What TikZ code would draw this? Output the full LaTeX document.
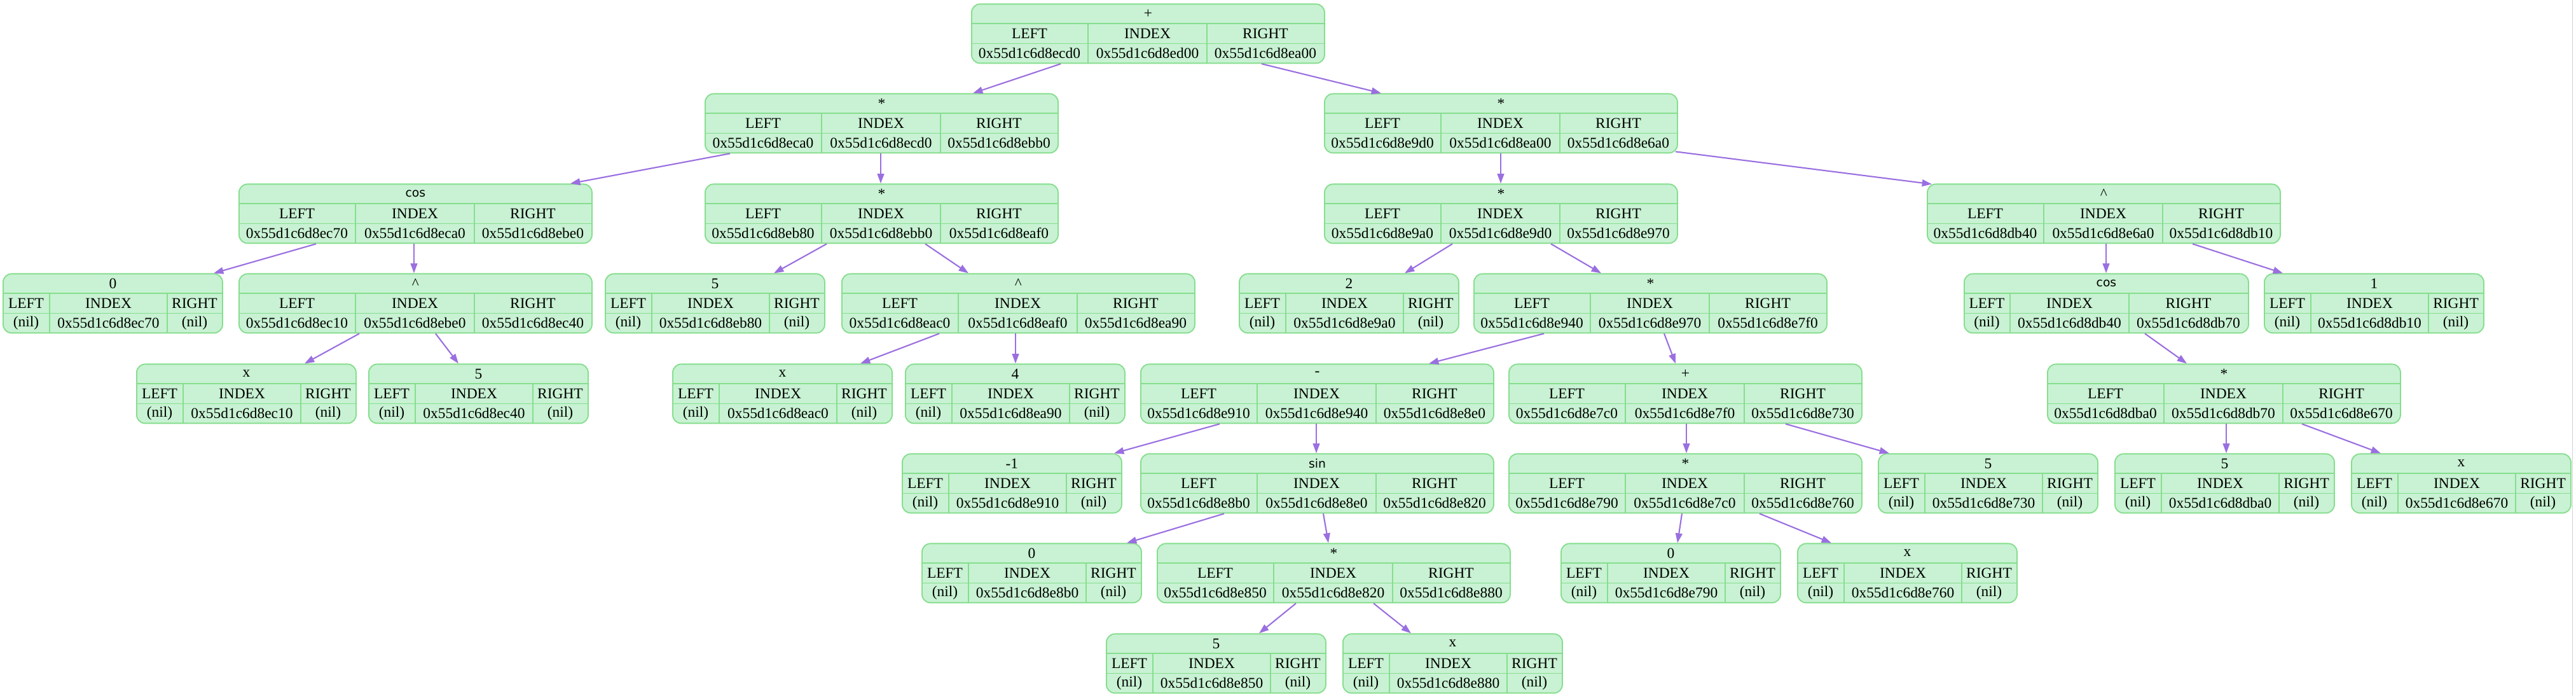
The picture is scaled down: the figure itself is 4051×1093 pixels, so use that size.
\documentclass[tikz,border=0pt]{standalone}
\usepackage{fontspec}
\setmainfont{Liberation Serif}
\newfontfamily\opsans{DejaVu Sans}
\usepackage{xcolor}
\usepackage{tikz}
\usetikzlibrary{arrows.meta, calc}

\definecolor{cellfill}{HTML}{C8F2D3}
\definecolor{celledge}{HTML}{86DE8E}
\definecolor{linkcol}{HTML}{9A6FE0}

% column widths of a record: LEFT / INDEX / RIGHT
\newcommand{\widerec}{\def\wa{184}\def\wb{187}\def\wc{184}}
\newcommand{\leafrec}{\def\wa{74}\def\wb{185}\def\wc{86}}
\newcommand{\halfrec}{\def\wa{73}\def\wb{187}\def\wc{187}}

% record node: name, x, y, label, left, index, right
\newcommand{\recnode}[7]{%
  \node[rec, minimum width={(\wa+\wb+\wc)*0.15mm}] (#1) at (#2,#3) {};
  \draw[sep] ($(#1.north west)+(0,31.5)$) -- ($(#1.north east)+(0,31.5)$);
  \draw[sep] ($(#1.north west)+(0,63)$) -- ($(#1.north east)+(0,63)$);
  \draw[sep] ($(#1.north west)+(\wa,31.5)$) -- ($(#1.south west)+(\wa,0)$);
  \draw[sep] ($(#1.north west)+(\wa+\wb,31.5)$) -- ($(#1.south west)+(\wa+\wb,0)$);
  \node[txt] at ($(#1.north)+(0,16)$) {#4};
  \node[txt] at ($(#1.north west)+(\wa/2,47)$) {LEFT};
  \node[txt] at ($(#1.north west)+(\wa+\wb/2,47)$) {INDEX};
  \node[txt] at ($(#1.north west)+(\wa+\wb+\wc/2,47)$) {RIGHT};
  \node[txt] at ($(#1.north west)+(\wa/2,78)$) {#5};
  \node[txt] at ($(#1.north west)+(\wa+\wb/2,78)$) {#6};
  \node[txt] at ($(#1.north west)+(\wa+\wb+\wc/2,78)$) {#7};
}

\begin{document}
\begin{tikzpicture}[
    x=0.15mm, y=-0.15mm,
    rec/.style={draw=celledge, fill=cellfill, line width=0.8pt, rounded corners=2mm,
                minimum height={93*0.15mm}, inner sep=0pt, anchor=north west},
    sep/.style={draw=celledge, line width=0.8pt},
    txt/.style={inner sep=0pt, font=\fontsize{10pt}{12pt}\selectfont},
    link/.style={draw=linkcol, line width=0.9pt, -{Triangle[length=2.3mm, width=1.6mm]}},
]
\path[fill=white] (0,0) rectangle (4051,1093);
\draw[gray!35, line width=0.4pt] (4045,0) -- (4045,1093);

% level 0
\widerec
\recnode{plus0}{1527}{5}{+}{0x55d1c6d8ecd0}{0x55d1c6d8ed00}{0x55d1c6d8ea00}

% level 1
\recnode{mulA}{1108}{146}{*}{0x55d1c6d8eca0}{0x55d1c6d8ecd0}{0x55d1c6d8ebb0}
\recnode{mulB}{2082}{146}{*}{0x55d1c6d8e9d0}{0x55d1c6d8ea00}{0x55d1c6d8e6a0}

% level 2
\recnode{cosA}{375}{288}{{\opsans\fontsize{8pt}{10pt}\selectfont cos}}{0x55d1c6d8ec70}{0x55d1c6d8eca0}{0x55d1c6d8ebe0}
\recnode{mulC}{1108}{288}{*}{0x55d1c6d8eb80}{0x55d1c6d8ebb0}{0x55d1c6d8eaf0}
\recnode{mulD}{2082}{288}{*}{0x55d1c6d8e9a0}{0x55d1c6d8e9d0}{0x55d1c6d8e970}
\recnode{powE}{3030}{288}{\textasciicircum}{0x55d1c6d8db40}{0x55d1c6d8e6a0}{0x55d1c6d8db10}

% level 3
\leafrec
\recnode{zeroA}{4}{429}{0}{(nil)}{0x55d1c6d8ec70}{(nil)}
\recnode{fiveA}{951}{429}{5}{(nil)}{0x55d1c6d8eb80}{(nil)}
\recnode{twoA}{1948}{429}{2}{(nil)}{0x55d1c6d8e9a0}{(nil)}
\recnode{oneA}{3560}{429}{1}{(nil)}{0x55d1c6d8db10}{(nil)}
\widerec
\recnode{powA}{375}{429}{\textasciicircum}{0x55d1c6d8ec10}{0x55d1c6d8ebe0}{0x55d1c6d8ec40}
\recnode{powB}{1323}{429}{\textasciicircum}{0x55d1c6d8eac0}{0x55d1c6d8eaf0}{0x55d1c6d8ea90}
\recnode{mulF}{2317}{429}{*}{0x55d1c6d8e940}{0x55d1c6d8e970}{0x55d1c6d8e7f0}
\halfrec
\recnode{cosB}{3088}{429}{{\opsans\fontsize{8pt}{10pt}\selectfont cos}}{(nil)}{0x55d1c6d8db40}{0x55d1c6d8db70}

% level 4
\leafrec
\recnode{xA}{214}{571}{x}{(nil)}{0x55d1c6d8ec10}{(nil)}
\recnode{fiveB}{579}{571}{5}{(nil)}{0x55d1c6d8ec40}{(nil)}
\recnode{xB}{1057}{571}{x}{(nil)}{0x55d1c6d8eac0}{(nil)}
\recnode{fourA}{1423}{571}{4}{(nil)}{0x55d1c6d8ea90}{(nil)}
\widerec
\recnode{minusA}{1793}{571}{-}{0x55d1c6d8e910}{0x55d1c6d8e940}{0x55d1c6d8e8e0}
\recnode{plusA}{2372}{571}{+}{0x55d1c6d8e7c0}{0x55d1c6d8e7f0}{0x55d1c6d8e730}
\recnode{mulG}{3219}{571}{*}{0x55d1c6d8dba0}{0x55d1c6d8db70}{0x55d1c6d8e670}

% level 5
\leafrec
\recnode{negA}{1418}{712}{-1}{(nil)}{0x55d1c6d8e910}{(nil)}
\recnode{fiveC}{2953}{712}{5}{(nil)}{0x55d1c6d8e730}{(nil)}
\recnode{fiveD}{3325}{712}{5}{(nil)}{0x55d1c6d8dba0}{(nil)}
\recnode{xC}{3697}{712}{x}{(nil)}{0x55d1c6d8e670}{(nil)}
\widerec
\recnode{sinA}{1793}{712}{{\opsans\fontsize{8pt}{10pt}\selectfont sin}}{0x55d1c6d8e8b0}{0x55d1c6d8e8e0}{0x55d1c6d8e820}
\recnode{mulH}{2372}{712}{*}{0x55d1c6d8e790}{0x55d1c6d8e7c0}{0x55d1c6d8e760}

% level 6
\leafrec
\recnode{zeroB}{1449}{853}{0}{(nil)}{0x55d1c6d8e8b0}{(nil)}
\recnode{zeroC}{2454}{853}{0}{(nil)}{0x55d1c6d8e790}{(nil)}
\recnode{xD}{2826}{853}{x}{(nil)}{0x55d1c6d8e760}{(nil)}
\widerec
\recnode{mulI}{1819}{853}{*}{0x55d1c6d8e850}{0x55d1c6d8e820}{0x55d1c6d8e880}

% level 7
\leafrec
\recnode{fiveE}{1739}{995}{5}{(nil)}{0x55d1c6d8e850}{(nil)}
\recnode{xE}{2111}{995}{x}{(nil)}{0x55d1c6d8e880}{(nil)}

% links
\draw[link] ($(plus0.south west)+(141,0)$) -- ($(mulA.north west)+(422,0)$);
\draw[link] ($(plus0.south west)+(457,0)$) -- ($(mulB.north west)+(90,0)$);
\draw[link] ($(mulA.south west)+(40,0)$) -- ($(cosA.north west)+(522,0)$);
\draw[link] ($(mulA.south west)+(277,0)$) -- ($(mulC.north west)+(277,0)$);
\draw[link] ($(mulB.south west)+(278,0)$) -- ($(mulD.north west)+(278,0)$);
\draw[link] ($(mulB.south west)+(553,-3)$) -- ($(powE.north west)+(8,1)$);
\draw[link] ($(mulC.south west)+(192,0)$) -- ($(fiveA.north west)+(266,0)$);
\draw[link] ($(mulC.south west)+(347,0)$) -- ($(powB.north west)+(200,0)$);
\draw[link] ($(cosA.south west)+(122,0)$) -- ($(zeroA.north west)+(332,0)$);
\draw[link] ($(cosA.south west)+(276,0)$) -- ($(powA.north west)+(276,0)$);
\draw[link] ($(mulD.south west)+(202,0)$) -- ($(twoA.north west)+(261,0)$);
\draw[link] ($(mulD.south west)+(357,0)$) -- ($(mulF.north west)+(201,0)$);
\draw[link] ($(powE.south west)+(282,0)$) -- ($(cosB.north west)+(224,0)$);
\draw[link] ($(powE.south west)+(418,0)$) -- ($(oneA.north west)+(30,0)$);
\draw[link] ($(powA.south west)+(190,0)$) -- ($(xA.north west)+(265,0)$);
\draw[link] ($(powA.south west)+(310,0)$) -- ($(fiveB.north west)+(142,0)$);
\draw[link] ($(powB.south west)+(154,0)$) -- ($(xB.north west)+(296,0)$);
\draw[link] ($(powB.south west)+(274,0)$) -- ($(fourA.north west)+(174,0)$);
\draw[link] ($(mulF.south west)+(111,0)$) -- ($(minusA.north west)+(454,0)$);
\draw[link] ($(mulF.south west)+(300,0)$) -- ($(plusA.north west)+(263,0)$);
\draw[link] ($(cosB.south west)+(285,0)$) -- ($(mulG.north west)+(220,0)$);
\draw[link] ($(minusA.south west)+(125,0)$) -- ($(negA.north west)+(334,0)$);
\draw[link] ($(minusA.south west)+(277,0)$) -- ($(sinA.north west)+(277,0)$);
\draw[link] ($(plusA.south west)+(280,0)$) -- ($(mulH.north west)+(280,0)$);
\draw[link] ($(plusA.south west)+(436,0)$) -- ($(fiveC.north west)+(18,0)$);
\draw[link] ($(mulG.south west)+(282,0)$) -- ($(fiveD.north west)+(176,0)$);
\draw[link] ($(mulG.south west)+(401,0)$) -- ($(xC.north west)+(47,0)$);
\draw[link] ($(sinA.south west)+(132,0)$) -- ($(zeroB.north west)+(323,0)$);
\draw[link] ($(sinA.south west)+(288,0)$) -- ($(mulI.north west)+(270,0)$);
\draw[link] ($(mulH.south west)+(273,0)$) -- ($(zeroC.north west)+(184,0)$);
\draw[link] ($(mulH.south west)+(395,0)$) -- ($(xD.north west)+(54,0)$);
\draw[link] ($(mulI.south west)+(219,0)$) -- ($(fiveE.north west)+(241,0)$);
\draw[link] ($(mulI.south west)+(341,0)$) -- ($(xE.north west)+(108,0)$);

\end{tikzpicture}
\end{document}
